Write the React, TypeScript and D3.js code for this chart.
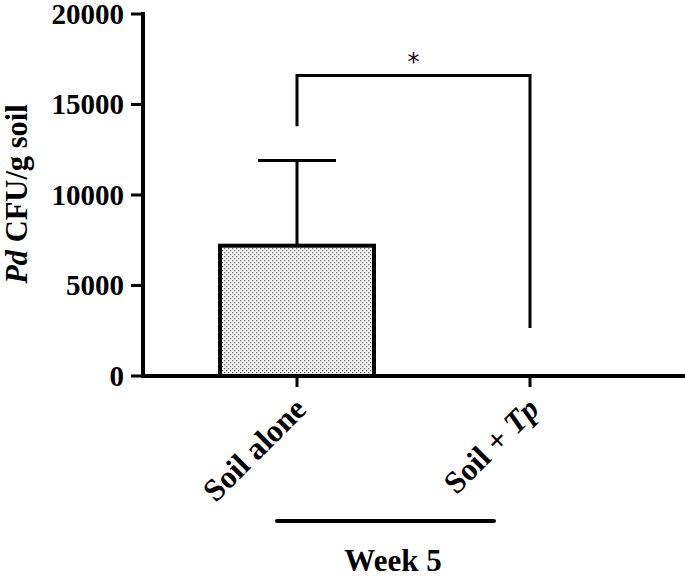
import React from 'react';
import * as d3 from 'd3';

const categories = ['Soil alone', 'Soil + Tp'];
const means = [7200, 0];
const errors = [4700, 0];
const yTicks = [0, 5000, 10000, 15000, 20000];
// significance bracket: left leg bottom, right leg bottom, top (data units)
const bracket = { left: 13800, right: 2650, top: 16600, label: '*' };
const groupLabel = 'Week 5';

const W = 685;
const H = 578;
const font = '"Liberation Serif", "Times New Roman", serif';

export default function App() {
  const y = d3.scaleLinear().domain([0, 20000]).range([376, 14]);
  const x = d3.scalePoint<string>().domain(categories).range([297, 530]);
  const barW = 154;
  const capW = 78;
  const x0 = 143;

  return (
    <svg
      width={W}
      height={H}
      viewBox={`0 0 ${W} ${H}`}
      style={{ position: 'absolute', left: 0, top: 0, background: '#fff' }}
    >
      <defs>
        <pattern id="dots" width="4" height="4" patternUnits="userSpaceOnUse">
          <rect width="4" height="4" fill="#f4f4f4" />
          <rect x="0" y="0" width="1.2" height="1.2" fill="#6a6a6a" />
          <rect x="2" y="2" width="1.2" height="1.2" fill="#6a6a6a" />
        </pattern>
      </defs>

      {/* bars + error bars */}
      {categories.map((c, i) => {
        const cx = x(c)!;
        const top = y(means[i]);
        const errTop = y(means[i] + errors[i]);
        return (
          <g key={c}>
            {means[i] > 0 && (
              <>
                <line x1={cx} x2={cx} y1={top} y2={errTop} stroke="#000" strokeWidth={3} />
                <line x1={cx - capW / 2} x2={cx + capW / 2} y1={errTop} y2={errTop} stroke="#000" strokeWidth={3} />
                <rect
                  x={cx - barW / 2}
                  y={top}
                  width={barW}
                  height={y(0) - top}
                  fill="url(#dots)"
                  stroke="#000"
                  strokeWidth={4}
                />
              </>
            )}
          </g>
        );
      })}

      {/* y axis */}
      <line x1={x0} x2={x0} y1={y(20000) - 2} y2={y(0) + 2} stroke="#000" strokeWidth={4} />
      {yTicks.map((t) => (
        <g key={t}>
          <line x1={x0 - 12} x2={x0} y1={y(t)} y2={y(t)} stroke="#000" strokeWidth={3} />
          <text
            x={x0 - 19}
            y={y(t)}
            dy="0.33em"
            textAnchor="end"
            fontFamily={font}
            fontWeight="bold"
            fontSize={29}
          >
            {t}
          </text>
        </g>
      ))}

      {/* x axis */}
      <line x1={x0 - 2} x2={W} y1={y(0)} y2={y(0)} stroke="#000" strokeWidth={4} />
      {categories.map((c) => {
        const cx = x(c)!;
        const parts = c.split('Tp');
        return (
          <g key={c}>
            <line x1={cx} x2={cx} y1={y(0)} y2={y(0) + 11} stroke="#000" strokeWidth={3} />
            <text
              transform={`translate(${cx + 11},${y(0) + 35}) rotate(-45)`}
              textAnchor="end"
              fontFamily={font}
              fontWeight="bold"
              fontSize={31.5}
            >
              {parts[0]}
              {parts.length > 1 && <tspan fontStyle="italic">Tp</tspan>}
            </text>
          </g>
        );
      })}

      {/* significance bracket */}
      <path
        d={`M${x(categories[0])},${y(bracket.left)} V${y(bracket.top)} H${x(categories[1])} V${y(bracket.right)}`}
        fill="none"
        stroke="#000"
        strokeWidth={3}
      />
      <text
        x={(x(categories[0])! + x(categories[1])!) / 2}
        y={y(bracket.top) - 6}
        textAnchor="middle"
        fontFamily="'DejaVu Sans', sans-serif"
        fontSize={24}
      >
        {bracket.label}
      </text>

      {/* group label */}
      <line x1={277} x2={494} y1={521} y2={521} stroke="#000" strokeWidth={4} strokeLinecap="round" />
      <text x={393} y={571} textAnchor="middle" fontFamily={font} fontWeight="bold" fontSize={31}>
        {groupLabel}
      </text>

      {/* y label */}
      <text
        transform={`translate(27,194) rotate(-90)`}
        textAnchor="middle"
        fontFamily={font}
        fontWeight="bold"
        fontSize={30.5}
      >
        <tspan fontStyle="italic">Pd</tspan> CFU/g soil
      </text>
    </svg>
  );
}
